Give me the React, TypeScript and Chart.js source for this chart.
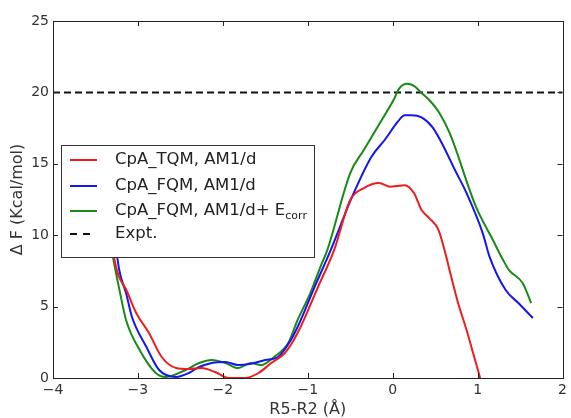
import React, { useEffect, useRef } from 'react';
import { Chart, registerables } from 'chart.js';

Chart.register(...registerables);

const xTickValues = [-4, -3, -2, -1, 0, 1, 2];
const yTickValues = [0, 5, 10, 15, 20, 25];
const exptValue = 20;

const seriesLabels = ['CpA_TQM, AM1/d', 'CpA_FQM, AM1/d', 'CpA_FQM, AM1/d+ E', 'Expt.'];

const tqmX = [-3.38, -3.28, -3.12, -3.02, -2.87, -2.72, -2.55, -2.4, -2.25, -2.09, -1.93, -1.74, -1.58, -1.43, -1.27, -1.12, -0.88, -0.69, -0.5, -0.34, -0.16, -0.03, 0.05, 0.14, 0.25, 0.34, 0.43, 0.54, 0.61, 0.69, 0.77, 0.87, 0.96, 1.03];
const tqmY = [13.5, 8.4, 5.95, 4.55, 3.15, 1.47, 0.7, 0.63, 0.7, 0.42, 0.0, 0.0, 0.35, 1.05, 1.75, 3.15, 6.37, 8.96, 12.46, 13.3, 13.65, 13.4, 13.45, 13.5, 12.95, 11.76, 11.2, 10.36, 8.96, 7.07, 5.25, 3.36, 1.47, 0.0];

const fqmX = [-3.35, -3.22, -3.14, -3.07, -2.9, -2.75, -2.55, -2.4, -2.28, -2.13, -1.97, -1.82, -1.67, -1.5, -1.35, -1.2, -1.12, -0.92, -0.73, -0.47, -0.25, -0.09, 0.06, 0.14, 0.22, 0.34, 0.47, 0.6, 0.73, 0.87, 1.06, 1.14, 1.33, 1.48, 1.65];
const fqmY = [13.5, 7.56, 5.95, 4.27, 2.17, 0.56, 0.07, 0.35, 0.77, 1.05, 1.12, 0.91, 1.0, 1.26, 1.47, 2.66, 3.57, 6.37, 8.96, 12.8, 15.5, 16.7, 17.95, 18.4, 18.4, 18.25, 17.55, 16.2, 14.6, 12.95, 10.15, 8.5, 6.16, 5.25, 4.2];

const corrX = [-3.42, -3.3, -3.21, -3.14, -2.98, -2.79, -2.67, -2.44, -2.28, -2.13, -1.97, -1.82, -1.67, -1.55, -1.39, -1.23, -1.12, -0.97, -0.85, -0.77, -0.5, -0.34, -0.15, 0.01, 0.08, 0.17, 0.25, 0.34, 0.43, 0.55, 0.67, 0.98, 1.18, 1.3, 1.37, 1.53, 1.63];
const corrY = [13.5, 8.7, 5.95, 4.06, 1.96, 0.35, 0.07, 0.56, 1.05, 1.26, 1.05, 0.7, 1.05, 0.9, 1.5, 2.45, 4.06, 5.95, 7.8, 8.96, 14.35, 15.97, 17.86, 19.47, 20.3, 20.6, 20.45, 19.96, 19.47, 18.56, 17.16, 12.0, 9.66, 8.26, 7.56, 6.65, 5.25];

const COLORS = ['#ee1c1c', '#1515ee', '#178a17', '#111111'];
const FONT = '"DejaVu Sans", Arial, sans-serif';

const toPoints = (xs: number[], ys: number[]) => xs.map((x, i) => ({ x, y: ys[i] }));

const fmt = (v: number) => (v < 0 ? '\u2212' + Math.abs(v) : String(v));

const framePlugin = {
  id: 'frameTicks',
  afterDatasetsDraw(chart: any) {
    const { ctx, chartArea: a, scales } = chart;
    const xs = scales.x;
    const ys = scales.y;
    ctx.save();
    ctx.strokeStyle = '#222';
    ctx.lineWidth = 1;
    ctx.strokeRect(Math.round(a.left) + 0.5, Math.round(a.top) + 0.5, Math.round(a.right - a.left), Math.round(a.bottom - a.top));
    ctx.beginPath();
    const tl = 5;
    xTickValues.forEach((v) => {
      const px = Math.round(xs.getPixelForValue(v)) + 0.5;
      ctx.moveTo(px, a.bottom);
      ctx.lineTo(px, a.bottom - tl);
      ctx.moveTo(px, a.top);
      ctx.lineTo(px, a.top + tl);
    });
    yTickValues.forEach((v) => {
      const py = Math.round(ys.getPixelForValue(v)) + 0.5;
      ctx.moveTo(a.left, py);
      ctx.lineTo(a.left + tl, py);
      ctx.moveTo(a.right, py);
      ctx.lineTo(a.right - tl, py);
    });
    ctx.stroke();
    ctx.restore();
  },
  afterDraw(chart: any) {
    const { ctx } = chart;
    ctx.save();
    const bx = 61, by = 145, bw = 253, bh = 112;
    ctx.fillStyle = '#ffffff';
    ctx.fillRect(bx, by, bw, bh);
    ctx.strokeStyle = '#333';
    ctx.lineWidth = 1;
    ctx.strokeRect(bx + 0.5, by + 0.5, bw, bh);
    const rows = [160, 186, 211, 234];
    const fontSize = 16.5;
    ctx.textBaseline = 'middle';
    ctx.textAlign = 'left';
    rows.forEach((ry, i) => {
      ctx.strokeStyle = COLORS[i];
      ctx.lineWidth = 2;
      ctx.beginPath();
      if (i < 3) {
        ctx.moveTo(70, ry);
        ctx.lineTo(97, ry);
      } else {
        ctx.moveTo(70, ry);
        ctx.lineTo(77, ry);
        ctx.moveTo(83, ry);
        ctx.lineTo(90, ry);
      }
      ctx.stroke();
      ctx.fillStyle = '#222';
      ctx.font = `${fontSize}px ${FONT}`;
      ctx.fillText(seriesLabels[i], 115, ry);
      if (i === 2) {
        const w = ctx.measureText(seriesLabels[i]).width;
        ctx.font = `11px ${FONT}`;
        ctx.fillText('corr', 115 + w, ry + 5);
      }
    });
    ctx.restore();
  },
};

export default function App() {
  const ref = useRef<HTMLCanvasElement | null>(null);

  useEffect(() => {
    if (!ref.current) return;
    const common = { borderWidth: 2, showLine: true, pointRadius: 0, cubicInterpolationMode: 'monotone' };
    const chart = new Chart(ref.current, {
      type: 'scatter',
      data: {
        datasets: [
          { ...common, label: seriesLabels[0], data: toPoints(tqmX, tqmY), borderColor: COLORS[0] },
          { ...common, label: seriesLabels[1], data: toPoints(fqmX, fqmY), borderColor: COLORS[1] },
          { ...common, label: seriesLabels[2], data: toPoints(corrX, corrY), borderColor: COLORS[2] },
          { label: seriesLabels[3], data: [{ x: -4, y: exptValue }, { x: 2, y: exptValue }], borderColor: COLORS[3], borderWidth: 2, borderDash: [7, 4], showLine: true, pointRadius: 0 },
        ],
      },
      options: {
        responsive: false,
        animation: false,
        events: [],
        layout: { padding: { top: 21, right: 4, left: 0, bottom: 0 } },
        plugins: { legend: { display: false }, tooltip: { enabled: false } },
        scales: {
          x: {
            type: 'linear',
            min: -4,
            max: 2,
            afterFit: (s: any) => { s.height = 40; },
            afterBuildTicks: (s: any) => { s.ticks = xTickValues.map((v) => ({ value: v })); },
            grid: { display: false, drawTicks: false },
            border: { display: false },
            ticks: { padding: 4, color: '#333', font: { family: FONT, size: 14 }, callback: (v: any) => fmt(Number(v)), maxRotation: 0 },
            title: { display: true, text: 'R5-R2 (Å)', color: '#333', font: { family: FONT, size: 16, lineHeight: 1 }, padding: { top: 0, bottom: 0 } },
          },
          y: {
            type: 'linear',
            min: 0,
            max: 25,
            afterFit: (s: any) => { s.width = 53; },
            afterBuildTicks: (s: any) => { s.ticks = yTickValues.map((v) => ({ value: v })); },
            grid: { display: false, drawTicks: false },
            border: { display: false },
            ticks: { padding: 4, color: '#333', font: { family: FONT, size: 14 }, callback: (v: any) => fmt(Number(v)) },
            title: { display: true, text: 'Δ F (Kcal/mol)', color: '#333', font: { family: FONT, size: 16, lineHeight: 1 }, padding: { top: 10, bottom: 0 } },
          },
        },
      },
      plugins: [framePlugin],
    } as any);
    return () => chart.destroy();
  }, []);

  return (
    <div style={{ position: 'absolute', left: 0, top: 0, width: 571, height: 418, background: '#fff' }}>
      <canvas ref={ref} width={571} height={418} />
    </div>
  );
}
